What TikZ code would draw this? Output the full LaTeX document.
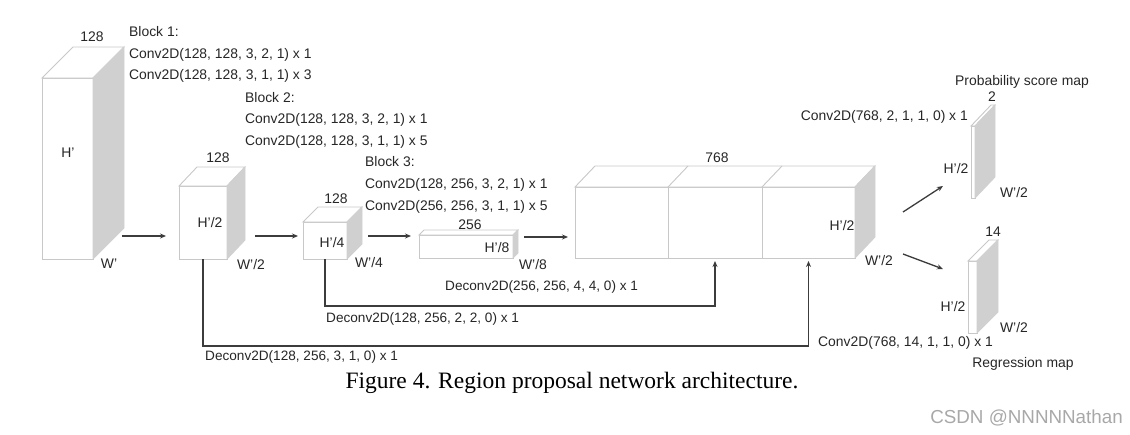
\documentclass[tikz,border=0pt]{standalone}
\usepackage{fontspec}
\setmainfont{Liberation Serif}
\setsansfont{Liberation Sans}
\usetikzlibrary{arrows.meta}
\definecolor{edgec}{HTML}{C8C8C8}
\definecolor{sidec}{HTML}{D0D0D0}
\definecolor{arrc}{HTML}{3C3C3C}
\definecolor{txtc}{HTML}{262626}
\definecolor{wmc}{HTML}{A8A8A8}
\tikzset{
  face/.style={draw=edgec, fill=white, line width=0.9pt, inner sep=0pt, outer sep=0pt},
  topface/.style={draw=edgec, line width=0.9pt, fill=white},
  sideface/.style={draw=sidec, fill=sidec, line width=0.9pt},
  arr/.style={draw=arrc, line width=1.3pt, -{Stealth[length=6pt,width=5pt]}},
  lbl/.style={font=\sffamily\fontsize{13.9}{15}\selectfont, text=txtc, inner sep=0pt},
  dlbl/.style={font=\sffamily\fontsize{13.6}{15}\selectfont, text=txtc, inner sep=0pt},
}
% name, x, y (top-left of front face), w, h, dx, dy
\newcommand\cuboid[7]{%
  \node[face, minimum width=#4pt, minimum height=#5pt, anchor=north west] (#1) at (#2,#3) {};
  \filldraw[topface] (#1.north west) -- ++(#6,-#7) -- ++(#4,0) -- (#1.north east) -- cycle;
  \filldraw[sideface] (#1.north east) -- ++(#6,-#7) -- ++(0,#5) -- (#1.south east) -- cycle;
}
\begin{document}
\begin{tikzpicture}[x=1pt,y=-1pt]
\useasboundingbox (0,0) rectangle (1130,434);
% cuboids
\cuboid{b1}{42}{78}{51}{181}{31}{31}
\cuboid{b2}{179}{186}{48}{73}{18}{19}
\cuboid{b3}{303}{222}{44}{37}{15}{15}
\cuboid{b4}{419}{235}{94}{23}{5}{5}
% big 768 block
\node[face, minimum width=93pt, minimum height=71pt, anchor=north west] (s1) at (575,187) {};
\node[face, minimum width=94pt, minimum height=71pt, anchor=north west] (s2) at (668,187) {};
\node[face, minimum width=93pt, minimum height=71pt, anchor=north west] (s3) at (762,187) {};
\filldraw[topface] (s1.north west) -- ++(20,-21) -- ++(280,0) -- (s3.north east) -- cycle;
\draw[edgec, line width=0.9pt] (s2.north west) -- ++(20,-21);
\draw[edgec, line width=0.9pt] (s3.north west) -- ++(20,-21);
\filldraw[sideface] (s3.north east) -- ++(20,-21) -- ++(0,71) -- (s3.south east) -- cycle;
% outputs
\cuboid{p1}{971}{126}{4}{72}{20}{21}
\cuboid{r1}{968}{261}{9}{72}{21}{21}
% labels on cuboids
\node[lbl] (t1) at (92,37) {128};
\node[lbl] (h1) at (68,153) {H'};
\node[lbl] (w1) at (109,264) {W'};
\node[lbl] (t2) at (218,158) {128};
\node[lbl] (h2) at (210,223) {H'/2};
\node[lbl] (w2) at (251,265) {W'/2};
\node[lbl] (t3) at (336,199) {128};
\node[lbl] (h3) at (332,243) {H'/4};
\node[lbl] (w3) at (369,263) {W'/4};
\node[lbl] (t4) at (470,225) {256};
\node[lbl] (h4) at (497,248) {H'/8};
\node[lbl] (w4) at (533,265) {W'/8};
\node[lbl] (t5) at (717,158) {768};
\node[lbl] (h5) at (842,226) {H'/2};
\node[lbl] (w5) at (879,261) {W'/2};
\node[lbl] (pt) at (1022,82) {Probability score map};
\node[lbl] (p2) at (992,97) {2};
\node[lbl, anchor=east] (pc) at (968,117) {Conv2D(768, 2, 1, 1, 0) x 1};
\node[lbl] (ph) at (956,169) {H'/2};
\node[lbl] (pw) at (1014,193) {W'/2};
\node[lbl] (r14) at (993,232) {14};
\node[lbl] (rh) at (953,307) {H'/2};
\node[lbl] (rw) at (1014,328) {W'/2};
\node[lbl, anchor=west] (rc) at (818,343) {Conv2D(768, 14, 1, 1, 0) x 1};
\node[lbl] (rt) at (1023,364) {Regression map};
% block texts
\node[lbl, anchor=west] (k1a) at (129,32) {Block 1:};
\node[lbl, anchor=west] (k1b) at (129,55) {Conv2D(128, 128, 3, 2, 1) x 1};
\node[lbl, anchor=west] (k1c) at (129,76) {Conv2D(128, 128, 3, 1, 1) x 3};
\node[lbl, anchor=west] (k2a) at (245,98) {Block 2:};
\node[lbl, anchor=west] (k2b) at (245,120) {Conv2D(128, 128, 3, 2, 1) x 1};
\node[lbl, anchor=west] (k2c) at (245,142) {Conv2D(128, 128, 3, 1, 1) x 5};
\node[lbl, anchor=west] (k3a) at (365,162) {Block 3:};
\node[lbl, anchor=west] (k3b) at (365,185) {Conv2D(128, 256, 3, 2, 1) x 1};
\node[lbl, anchor=west] (k3c) at (365,207) {Conv2D(256, 256, 3, 1, 1) x 5};
% deconv labels
\node[dlbl, anchor=west] (d1) at (445,287) {Deconv2D(256, 256, 4, 4, 0) x 1};
\node[dlbl, anchor=west] (d2) at (326,319) {Deconv2D(128, 256, 2, 2, 0) x 1};
\node[dlbl, anchor=west] (d3) at (205,357) {Deconv2D(128, 256, 3, 1, 0) x 1};
% forward arrows
\coordinate (a1s) at (122,236); \coordinate (a1e) at (166,236);
\coordinate (a2s) at (255,236); \coordinate (a2e) at (298,236);
\coordinate (a3s) at (368,236); \coordinate (a3e) at (411,236);
\coordinate (a4s) at (524,237); \coordinate (a4e) at (568,237);
\draw[arr] (a1s) -- (a1e);
\draw[arr] (a2s) -- (a2e);
\draw[arr] (a3s) -- (a3e);
\draw[arr] (a4s) -- (a4e);
\coordinate (o1s) at (903,212); \coordinate (o1e) at (943,186);
\coordinate (o2s) at (903,254); \coordinate (o2e) at (943,269);
\draw[arr] (o1s) -- (o1e);
\draw[arr] (o2s) -- (o2e);
% skip connections
\draw[arr, shorten >=3pt] (b3.south) -- ++(0,47) -| (s2.south);
\draw[arr, shorten >=3pt] (b2.south) -- ++(0,87) -| (s3.south);
% caption
\node[font=\rmfamily\fontsize{23.5}{26}\selectfont, text=black, inner sep=0pt] (cap) at (572,383) {Figure 4. Region proposal network architecture.};
\node[font=\sffamily\fontsize{18.8}{20}\selectfont, text=wmc, inner sep=0pt, anchor=east] (wm) at (1123,418) {CSDN @NNNNNathan};
\end{tikzpicture}
\end{document}
